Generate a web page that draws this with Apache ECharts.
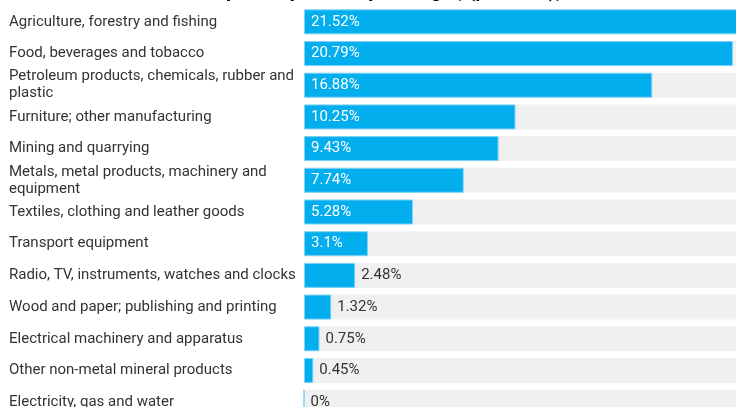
<!DOCTYPE html>
<html>
<head>
<meta charset="utf-8">
<script src="https://cdn.jsdelivr.net/npm/echarts@6/dist/echarts.min.js"></script>
<style>
  html, body { margin: 0; padding: 0; background: #fff; }
  #chart { width: 736px; height: 407px; }
</style>
</head>
<body>
<div id="chart"></div>
<script>
  const categories = [
    'Agriculture, forestry and fishing',
    'Food, beverages and tobacco',
    'Petroleum products, chemicals, rubber and plastic',
    'Furniture; other manufacturing',
    'Mining and quarrying',
    'Metals, metal products, machinery and equipment',
    'Textiles, clothing and leather goods',
    'Transport equipment',
    'Radio, TV, instruments, watches and clocks',
    'Wood and paper; publishing and printing',
    'Electrical machinery and apparatus',
    'Other non-metal mineral products',
    'Electricity, gas and water'
  ]
  const shares = [21.52, 20.79, 16.88, 10.25, 9.43, 7.74, 5.28, 3.1, 2.48, 1.32, 0.75, 0.45, 0]

  // big bars get the label inside, small ones next to the bar
  const barData = shares.map((v) => ({
    value: v,
    label: v >= 3
      ? { position: 'insideLeft', color: '#fff', distance: 7 }
      : { position: 'right', color: '#333', distance: 6 }
  }))

  const chart = echarts.init(document.getElementById('chart'))
  chart.setOption({
    animation: false,
    // title sits mostly above the visible area, only its lower edge shows
    title: {
      text: 'Share of exports by industry of origin, (per cent), 2019',
      left: 'center',
      top: -23,
      textStyle: { fontFamily: 'Roboto', fontSize: 20, fontWeight: 'bold', color: '#000' }
    },
    grid: { left: 304, top: 6, width: 444, height: 412, outerBoundsMode: 'none' },
    xAxis: {
      type: 'value',
      min: 0,
      max: 21.52,
      show: false
    },
    yAxis: {
      type: 'category',
      inverse: true,
      data: categories,
      axisLine: { show: false },
      axisTick: { show: false },
      axisLabel: {
        align: 'left',
        margin: 295,
        width: 292,
        overflow: 'break',
        lineHeight: 17,
        fontFamily: 'Roboto',
        fontSize: 15,
        color: '#333'
      }
    },
    series: [
      {
        type: 'bar',
        data: barData,
        barWidth: 25,
        showBackground: true,
        backgroundStyle: { color: '#f0f0f0' },
        itemStyle: { color: '#03aeef', borderColor: '#7fd3f5', borderWidth: 1 },
        label: {
          show: true,
          fontFamily: 'Roboto',
          fontSize: 15,
          formatter: (p) => p.value + '%'
        }
      }
    ]
  })
</script>
</body>
</html>
